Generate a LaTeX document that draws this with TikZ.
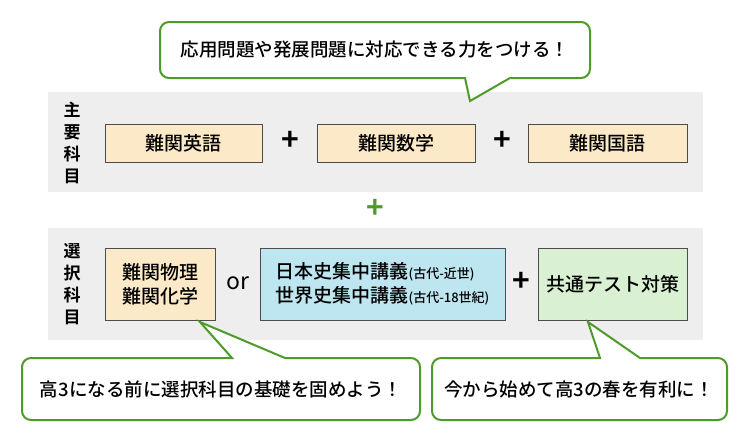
\documentclass[tikz,border=0pt]{standalone}
\usepackage{fontspec}
\setmainfont{Noto Sans CJK JP}
\newfontfamily\jpb{Noto Sans CJK JP Bold}
\newfontfamily\jpm{Noto Sans CJK JP Medium}
\usetikzlibrary{positioning}
\definecolor{band}{HTML}{EEEEEE}
\definecolor{beige}{HTML}{FCE9C7}
\definecolor{sky}{HTML}{BDE6F1}
\definecolor{mint}{HTML}{D9F0D3}
\definecolor{leaf}{HTML}{4E9A2A}
\tikzset{course/.style={draw=black!70,thin,font=\jpm\fontsize{19}{22}\selectfont},
	plus/.style={font=\jpb\fontsize{30}{30}\selectfont},
	callout/.style={draw=leaf,line width=2pt,fill=white,rounded corners=9pt},
	say/.style={font=\jpm\fontsize{18.5}{22}\selectfont}}
\begin{document}
\begin{tikzpicture}[x=1pt,y=-1pt]
	\useasboundingbox (0,0) rectangle (750,440);
	% bands
	\fill[band] (48,92) rectangle (703,192);
	\fill[band] (48,228) rectangle (703,340);
	\node[font=\jpb\fontsize{17}{22}\selectfont,align=center] (main) at (72,143) {主\\要\\科\\目};
	\node[font=\jpb\fontsize{17}{22}\selectfont,align=center] (sel) at (72,284) {選\\択\\科\\目};
	% required courses
	\node[course,fill=beige,minimum width=157pt,minimum height=38pt] (eng) at (183.5,143) {難関英語};
	\node[course,fill=beige,minimum width=158pt,minimum height=38pt] (math) at (396,143) {難関数学};
	\node[course,fill=beige,minimum width=159pt,minimum height=38pt] (jpn) at (607.5,143) {難関国語};
	\node[plus] (p1) at (290,141) {+};
	\node[plus] (p2) at (502,141) {+};
	\node[plus,text=leaf] (p3) at (375,209) {+};
	% elective courses
	\node[course,fill=beige,minimum width=110pt,minimum height=72pt,align=left] (sci) at (160,284) {難関物理\\[2pt]難関化学};
	\node[font=\fontsize{23}{23}\selectfont] (or) at (238,283) {or};
	\node[course,fill=sky,minimum width=245pt,minimum height=72pt,align=left] (hist) at (382.5,284)
		{日本史集中講義{\fontsize{13}{15}\selectfont(古代-近世)}\\[2pt]世界史集中講義{\fontsize{13}{15}\selectfont(古代-18世紀)}};
	\node[plus] (p4) at (521,282) {+};
	\node[course,fill=mint,minimum width=149pt,minimum height=72pt] (test) at (612.5,284) {共通テスト対策};
	% callouts
	\draw[callout] (160,78) [rounded corners=0pt] -- (465,78) -- (470,101) -- (510,78) [rounded corners=9pt] -- (590,78) -- (590,22) -- (160,22) -- cycle;
	\node[say] (top) at (375,50) {応用問題や発展問題に対応できる力をつける！};
	\draw[callout] (22,420) -- (22,358) [rounded corners=0pt] -- (232,358) -- (200,322) -- (285,358) [rounded corners=9pt] -- (420,358) -- (420,420) -- cycle;
	\node[say] (left) at (221,389) {高3になる前に選択科目の基礎を固めよう！};
	\draw[callout] (432,420) -- (432,358) [rounded corners=0pt] -- (600,358) -- (588,322) -- (640,358) [rounded corners=9pt] -- (727,358) -- (727,420) -- cycle;
	\node[say] (right) at (579,389) {今から始めて高3の春を有利に！};
\end{tikzpicture}
\end{document}
